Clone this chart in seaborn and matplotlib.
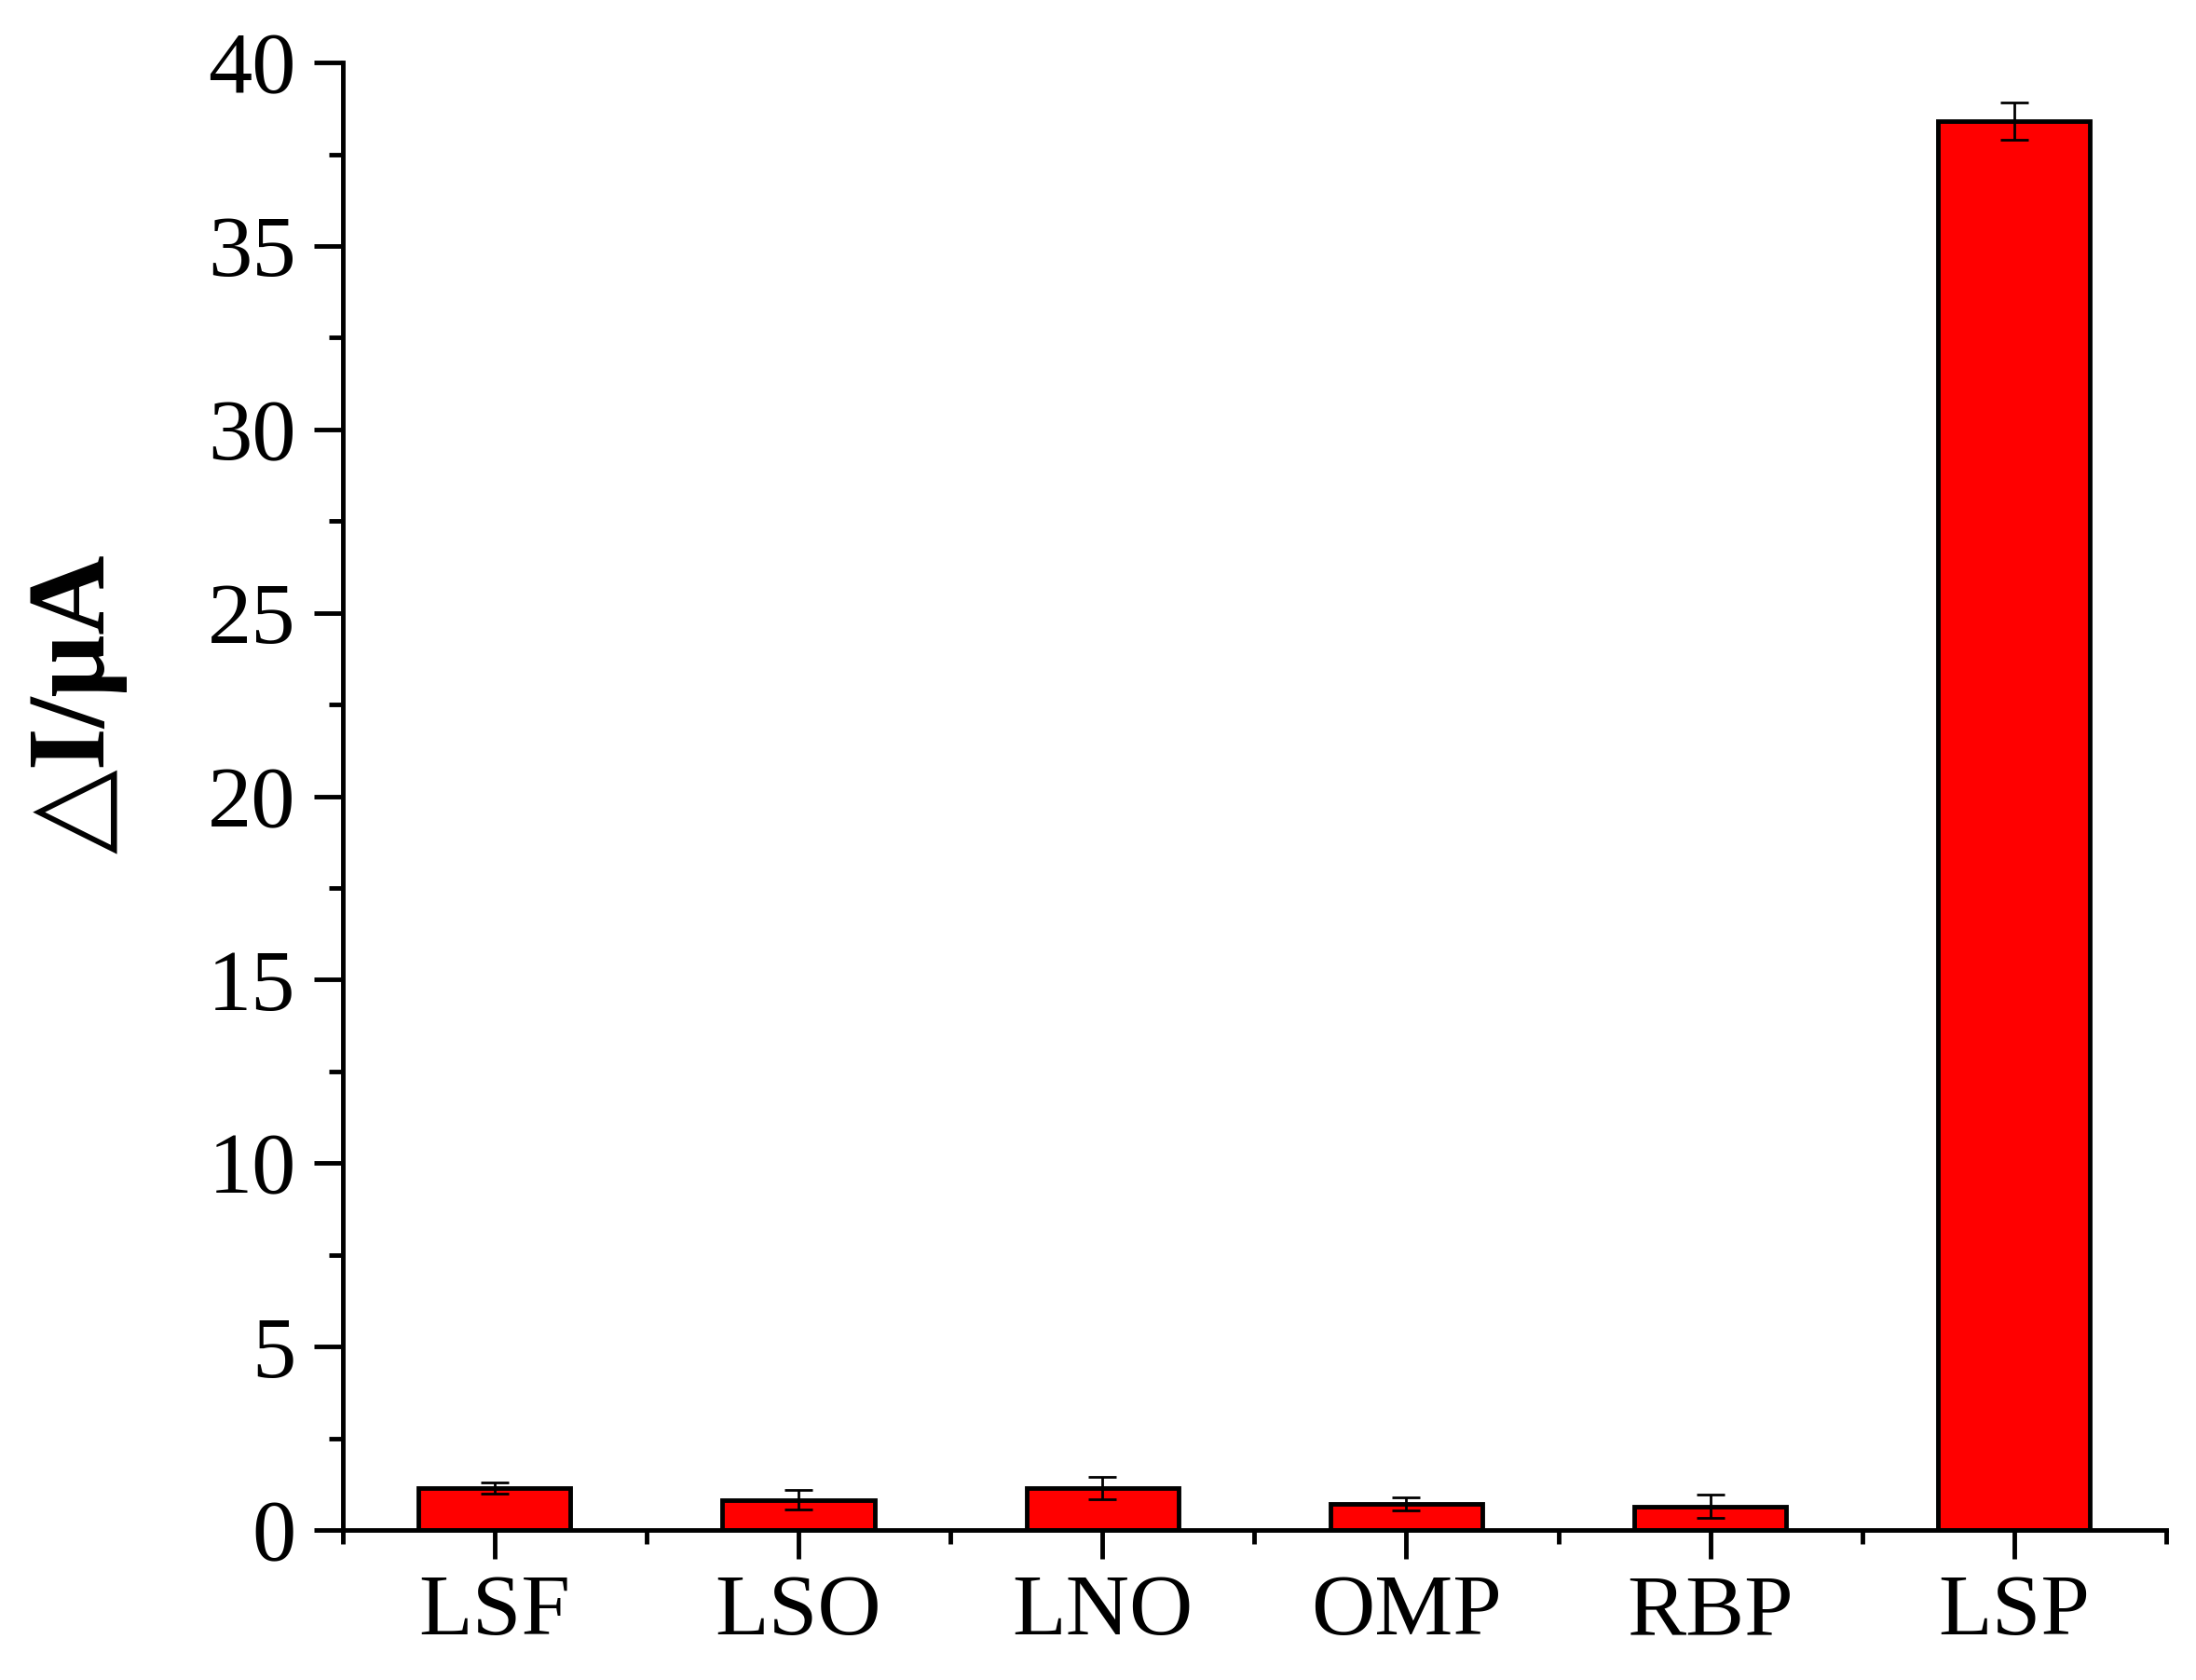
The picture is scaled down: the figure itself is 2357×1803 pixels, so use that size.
import pandas as pd
import numpy as np
import matplotlib
matplotlib.use('Agg')
import matplotlib.pyplot as plt
import seaborn as sns
from matplotlib.ticker import MultipleLocator, FixedLocator

# values
samples = ['LSF', 'LSO', 'LNO', 'OMP', 'RBP', 'LSP']
delta_i = [1.15, 0.82, 1.14, 0.72, 0.64, 38.4]
errors = [0.15, 0.27, 0.30, 0.18, 0.32, 0.50]

df = pd.DataFrame({'sample': samples, 'delta_i': delta_i, 'err': errors})

sns.set_style('ticks')
plt.rcParams['font.family'] = ['Liberation Serif', 'DejaVu Sans']

fig = plt.figure(figsize = (23.57, 18.03), dpi = 100)
ax = fig.add_axes([0.156, 0.0893, 0.8304, 0.8735])

#red bars with black outline, error bars drawn on top
sns.barplot(data = df, x = 'sample', y = 'delta_i', color = '#ff0000',
            saturation = 1, width = 0.5, edgecolor = 'black', linewidth = 3.5,
            errorbar = None, ax = ax)
ax.errorbar(np.arange(len(samples)), df['delta_i'], yerr = df['err'], fmt = 'none',
            ecolor = 'black', elinewidth = 2, capsize = 10.5, capthick = 2)

ax.set_xlim(-0.5, 5.5)
ax.set_ylim(0, 40)
ax.yaxis.set_major_locator(MultipleLocator(5))
ax.yaxis.set_minor_locator(MultipleLocator(2.5))
ax.xaxis.set_minor_locator(FixedLocator(np.arange(-0.5, 6, 1)))

sns.despine(ax = ax)
for s in ['left', 'bottom']:
    ax.spines[s].set_linewidth(3.5)
    ax.spines[s].set_color('black')

ax.tick_params(axis = 'both', which = 'major', length = 22, width = 3.5,
               labelsize = 68, colors = 'black', direction = 'out')
ax.tick_params(axis = 'both', which = 'minor', length = 11, width = 3.5,
               colors = 'black', direction = 'out')
ax.tick_params(axis = 'y', which = 'major', pad = 14)
ax.tick_params(axis = 'x', which = 'major', pad = 12)

ax.set_xlabel('')
ax.set_ylabel('△I/μA', fontsize = 85, fontweight = 'bold', color = 'black')
ax.yaxis.set_label_coords(-0.118, 0.563)

fig.savefig('out.png', dpi = 100, facecolor = 'white')
